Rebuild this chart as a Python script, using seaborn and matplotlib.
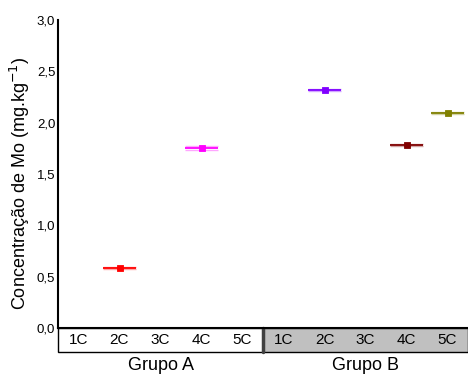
import matplotlib
matplotlib.use("Agg")
import matplotlib.pyplot as plt
import seaborn as sns
import pandas as pd
from matplotlib.patches import Rectangle
import matplotlib.transforms as mtransforms

groups = ["Grupo A", "Grupo B"]
cats = ["1C", "2C", "3C", "4C", "5C"]
point_group = ["Grupo A", "Grupo A", "Grupo B", "Grupo B", "Grupo B"]
point_cat = ["2C", "4C", "2C", "4C", "5C"]
point_mean = [0.585, 1.755, 2.32, 1.785, 2.095]
point_sd = [0.01, 0.02, 0.008, 0.01, 0.006]
point_color = ["#ff0000", "#ff00ff", "#8000ff", "#800000", "#808000"]
yticks = [0.0, 0.5, 1.0, 1.5, 2.0, 2.5, 3.0]
ytick_labels = ["0,0", "0,5", "1,0", "1,5", "2,0", "2,5", "3,0"]
ylabel = "Concentração de Mo (mg.kg$^{-1}$)"

sns.set_style("white")
plt.rcParams["font.family"] = ["Liberation Sans", "DejaVu Sans"]
plt.rcParams["text.color"] = "black"
plt.rcParams["axes.labelcolor"] = "black"
plt.rcParams["ytick.color"] = "black"
plt.rcParams["xtick.color"] = "black"

order = [f"{g}-{c}" for g in groups for c in cats]
df = pd.DataFrame({
    "key": [f"{g}-{c}" for g, c in zip(point_group, point_cat)],
    "mean": point_mean,
    "sd": point_sd,
    "color": point_color,
})
palette = dict(zip(df["key"], df["color"]))

fig = plt.figure(figsize=(4.68, 3.76), dpi=100)
ax = fig.add_axes([58 / 468, 48 / 376, 410 / 468, 308 / 376])

for _, r in df.iterrows():
    x = order.index(r["key"])
    ax.hlines(r["mean"], x - 0.4, x + 0.4, color=r["color"], lw=1.3, zorder=3)
    ax.hlines([r["mean"] - r["sd"], r["mean"] + r["sd"]], x - 0.4, x + 0.4,
              color=r["color"], lw=1.0, alpha=0.35, zorder=2)
    ax.errorbar(x, r["mean"], yerr=r["sd"], color=r["color"], lw=1.0,
                capsize=2.0, capthick=1.0, fmt="none", zorder=3)

sns.pointplot(data=df, x="key", y="mean", hue="key", order=order,
              palette=palette, markers="s", markersize=2.3, linestyle="none",
              errorbar=None, legend=False, ax=ax, zorder=4)

ax.set_xlim(-0.5, len(order) - 0.5)
ax.set_ylim(0, 3.0)
ax.set_yticks(yticks)
ax.set_yticklabels(ytick_labels, fontsize=9.5)
ax.tick_params(axis="y", length=0, pad=2)
ax.set_xticks([])
ax.set_xlabel("")
ax.set_ylabel(ylabel, fontsize=13)
ax.yaxis.set_label_coords(-26 / 410, 0.47)

for s in ["top", "right"]:
    ax.spines[s].set_visible(False)
for s in ["left", "bottom"]:
    ax.spines[s].set_color("black")
    ax.spines[s].set_linewidth(1.5)

trans = mtransforms.blended_transform_factory(ax.transData, ax.transAxes)
box_h = 24 / 308
fills = ["white", "#c0c0c0"]
for gi, g in enumerate(groups):
    x0 = gi * len(cats) - 0.5
    rect = Rectangle((x0, -box_h), len(cats), box_h, transform=trans,
                     facecolor=fills[gi], edgecolor="black", lw=1.0,
                     clip_on=False, zorder=1)
    ax.add_patch(rect)
    if gi > 0:
        ax.plot([x0, x0], [-box_h, 0], transform=trans, color="#404040",
                lw=2.5, clip_on=False, zorder=2)
    for ci, c in enumerate(cats):
        ax.text(gi * len(cats) + ci, -box_h / 2, c, transform=trans,
                ha="center", va="center", fontsize=11)
    ax.text(gi * len(cats) + (len(cats) - 1) / 2, -38 / 308, g,
            transform=trans, ha="center", va="center", fontsize=13)

fig.savefig("out.png", dpi=100)
